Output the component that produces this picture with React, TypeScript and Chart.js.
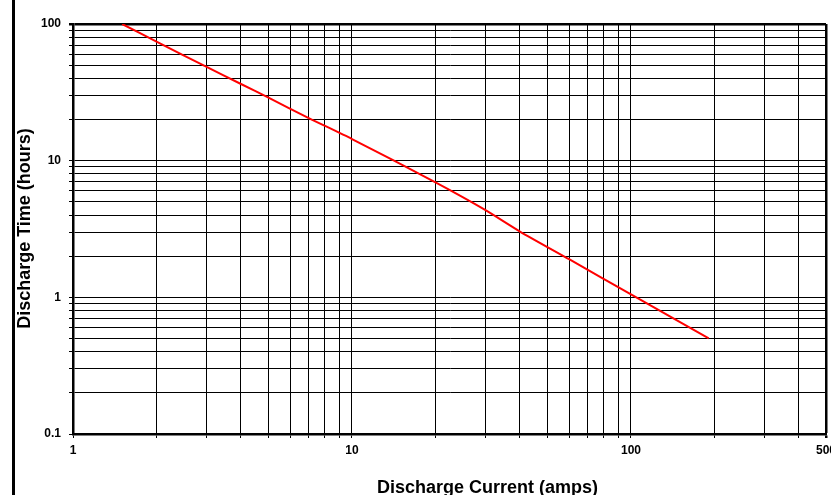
import React, { useEffect, useRef } from "react";
import { Chart, registerables } from "chart.js";

Chart.register(...registerables);

const currentAmps = [1.5, 2, 3, 4, 5, 7, 10, 20, 30, 40, 60, 100, 190];
const dischargeHours = [100, 74, 48.7, 36.4, 29, 20.5, 14.4, 6.9, 4.36, 3.03, 1.9, 1.05, 0.5];

const xGridValues = [1, 2, 3, 4, 5, 6, 7, 8, 9, 10, 20, 30, 40, 50, 60, 70, 80, 90, 100, 200, 300, 400, 500];
const yGridValues = [0.1, 0.2, 0.3, 0.4, 0.5, 0.6, 0.7, 0.8, 0.9, 1, 2, 3, 4, 5, 6, 7, 8, 9, 10, 20, 30, 40, 50, 60, 70, 80, 90, 100];
const xTickLabels = ["1", "10", "100", "500"];
const yTickLabels = ["0.1", "1", "10", "100"];

const xTitle = "Discharge Current (amps)";
const yTitle = "Discharge Time (hours)";

const FONT = "'Liberation Sans', Arial, sans-serif";

export default function App() {
  const ref = useRef<HTMLCanvasElement | null>(null);

  useEffect(() => {
    document.body.style.margin = "0";
    const canvas = ref.current;
    if (!canvas) return;

    const decor = {
      id: "decor",
      afterDraw(chart: any) {
        const c = chart.ctx;
        c.save();
        c.fillStyle = "#000";
        c.fillRect(12, 0, 3, chart.height);
        c.font = `bold 18px ${FONT}`;
        c.textAlign = "left";
        c.textBaseline = "alphabetic";
        c.fillText(xTitle, 377, 493);
        c.translate(30, 228.5);
        c.rotate(-Math.PI / 2);
        c.textAlign = "center";
        c.fillText(yTitle, 0, 0);
        c.restore();
      },
    };

    const chart = new Chart(canvas, {
      type: "line",
      data: {
        datasets: [
          {
            data: currentAmps.map((x, i) => ({ x, y: dischargeHours[i] })),
            borderColor: "#ff0000",
            borderWidth: 2,
            pointRadius: 0,
            tension: 0.2,
            fill: false,
          },
        ],
      },
      options: {
        animation: false,
        responsive: false,
        maintainAspectRatio: false,
        layout: { padding: { left: 0, right: 5, top: 24, bottom: 0 } },
        plugins: {
          legend: { display: false },
          tooltip: { enabled: false },
        },
        scales: {
          x: {
            type: "logarithmic",
            min: 1,
            max: 500,
            afterBuildTicks: (scale: any) => {
              scale.ticks = xGridValues.map((v) => ({ value: v }));
            },
            afterFit: (scale: any) => {
              scale.paddingLeft = 0;
              scale.paddingRight = 0;
              scale.height = 61;
            },
            ticks: {
              autoSkip: false,
              maxRotation: 0,
              padding: 5,
              color: "#000",
              font: { family: FONT, size: 12, weight: "bold" },
              callback: (value: any) => {
                const s = String(value);
                return xTickLabels.includes(s) ? s : "";
              },
            },
            grid: {
              color: "#000",
              lineWidth: (ctx: any) => (ctx.tick && ctx.tick.value === 500 ? 2.5 : 1),
              tickLength: 4,
              drawTicks: true,
            },
            border: { display: true, color: "#000", width: 2.5 },
          },
          y: {
            type: "logarithmic",
            min: 0.1,
            max: 100,
            afterBuildTicks: (scale: any) => {
              scale.ticks = yGridValues.map((v) => ({ value: v }));
            },
            afterFit: (scale: any) => {
              scale.paddingTop = 0;
              scale.paddingBottom = 0;
              scale.width = 73;
            },
            ticks: {
              autoSkip: false,
              padding: 8,
              color: "#000",
              font: { family: FONT, size: 12, weight: "bold" },
              callback: (value: any) => {
                const s = String(value);
                return yTickLabels.includes(s) ? s : "";
              },
            },
            grid: {
              color: "#000",
              lineWidth: (ctx: any) => (ctx.tick && ctx.tick.value === 100 ? 2.5 : 1),
              tickLength: 4,
              drawTicks: true,
            },
            border: { display: true, color: "#000", width: 2.5 },
          },
        },
      },
      plugins: [decor],
    });

    return () => chart.destroy();
  }, []);

  return (
    <div style={{ width: 831, height: 495, background: "#fff", overflow: "hidden" }}>
      <canvas ref={ref} width={831} height={495} style={{ width: 831, height: 495, display: "block" }} />
    </div>
  );
}
